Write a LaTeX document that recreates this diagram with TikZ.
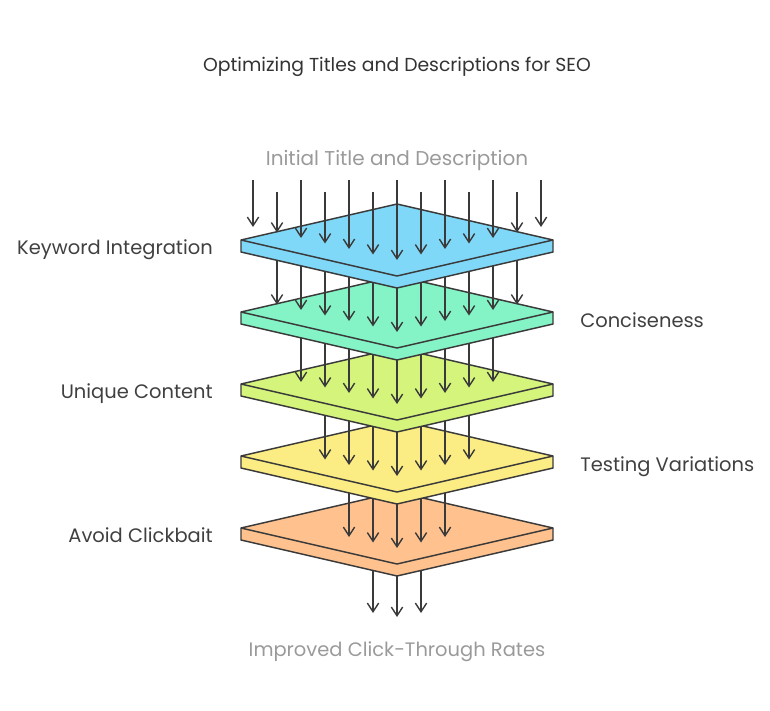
\documentclass[tikz,border=0pt]{standalone}
\usepackage{fontspec}
\setmainfont{Poppins}
\usetikzlibrary{arrows.meta}

\definecolor{plateblue}{HTML}{80D8F9}
\definecolor{plategreen}{HTML}{84F4C6}
\definecolor{platelime}{HTML}{D4F47C}
\definecolor{plateyellow}{HTML}{FBEC84}
\definecolor{plateorange}{HTML}{FFC18E}
\definecolor{edgegray}{HTML}{3A3A3A}
\definecolor{textdark}{HTML}{404040}
\definecolor{textlight}{HTML}{9A9A9A}

\begin{document}
\begin{tikzpicture}[
    x=0.75pt, y=-0.75pt,
    plate/.style={draw=edgegray, line width=1.1pt, line join=round},
    flow/.style={draw=edgegray, line width=1.05pt, -{Straight Barb[length=6.5pt,width=8.5pt]}},
    sidetext/.style={text=textdark, inner sep=0pt, font=\fontsize{14.6}{17}\selectfont},
    endtext/.style={text=textlight, inner sep=0pt, font=\fontsize{14.6}{17}\selectfont}
]
\useasboundingbox (0,0) rectangle (770,710);

\node[text=black!80, font=\fontsize{14.1}{17}\selectfont, anchor=base] (title) at (397,71) {Optimizing Titles and Descriptions for SEO};
\node[endtext, font=\fontsize{15}{17}\selectfont, anchor=base] (input) at (397,165) {Initial Title and Description};
\node[endtext, anchor=base] (output) at (397,656) {Improved Click-Through Rates};

% arrows leaving the last layer
\foreach \k in {-1,0,1}
  \draw[flow] ({397+24*\k},528) -- ({397+24*\k},{617-4*abs(\k)});

% layers, drawn from the bottom up
\foreach \i/\col/\n in {4/plateorange/2, 3/plateyellow/3, 2/platelime/4, 1/plategreen/5, 0/plateblue/6} {
  \pgfmathsetmacro\yc{240+72*\i}
  \filldraw[plate, fill=\col] (241,\yc) -- (397,\yc-36) -- (553,\yc) -- (553,\yc+12)
    -- (397,\yc+48) -- (241,\yc+12) -- cycle;
  \draw[plate] (241,\yc) -- (397,\yc+36) -- (553,\yc);
  \foreach \k in {-\n,...,\n} {
    \pgfmathsetmacro\ys{\i==0 ? 180+12*mod(abs(\k),2) : \yc-72}
    \draw[flow] ({397+24*\k},\ys) -- ({397+24*\k},{\yc+20-5.5*abs(\k)});
  }
}

\node[sidetext, anchor=base east] (keyword) at (213,254) {Keyword Integration};
\node[sidetext, anchor=base west] (concise) at (580,327) {Conciseness};
\node[sidetext, anchor=base east] (unique) at (213,398) {Unique Content};
\node[sidetext, anchor=base west] (testing) at (580,471) {Testing Variations};
\node[sidetext, anchor=base east] (clickbait) at (213,542) {Avoid Clickbait};

\end{tikzpicture}
\end{document}
